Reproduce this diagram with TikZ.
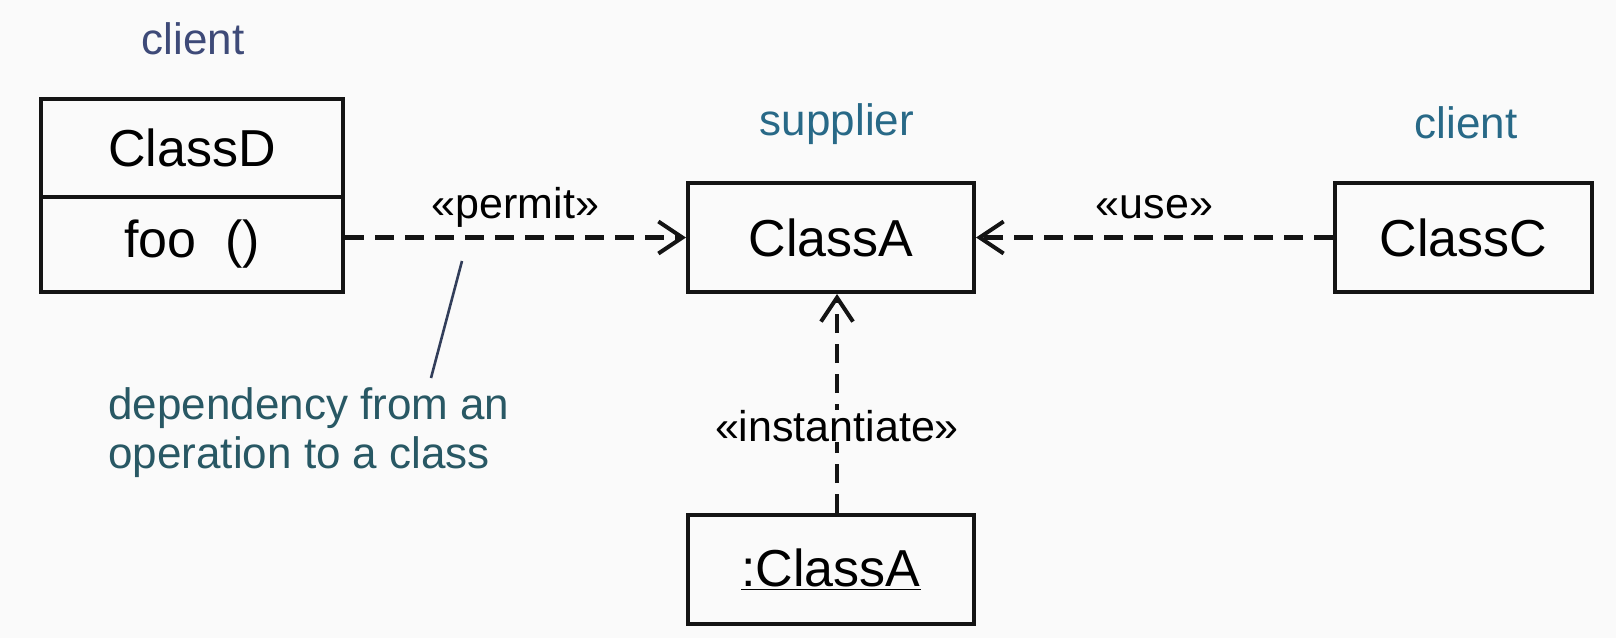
\documentclass[tikz,border=0pt]{standalone}
\usepackage{fontspec}
\setmainfont{Liberation Sans}
\usetikzlibrary{arrows.meta}
\definecolor{bgc}{RGB}{250,250,250}
\definecolor{clientc}{RGB}{62,74,120}
\definecolor{supplierc}{RGB}{40,105,135}
\definecolor{notec}{RGB}{40,88,100}
\definecolor{notelinec}{RGB}{50,62,90}
\definecolor{boxc}{RGB}{20,20,20}
\tikzset{
  box/.style={draw=boxc, line width=2pt, inner sep=0pt, font=\fontsize{26}{30}\selectfont},
  rolelabel/.style={inner sep=0pt, font=\fontsize{22}{26}\selectfont},
  stereo/.style={inner sep=1pt, font=\fontsize{21.5}{26}\selectfont},
  dep/.style={draw=boxc, line width=2.2pt, dash pattern=on 9.5pt off 5.5pt,
    -{Straight Barb[length=12pt,width=16pt,line width=2pt]}},
  noteline/.style={draw=notelinec, line width=1.3pt},
}
\begin{document}
\begin{tikzpicture}[x=0.5pt,y=-0.5pt]
\fill[bgc] (0,0) rectangle (1616,638);
\useasboundingbox (0,0) rectangle (1616,638);

% role labels
\node[rolelabel, text=clientc] (clientL) at (193,39) {client};
\node[rolelabel, text=supplierc] (supplierL) at (837,124) {supplier};
\node[rolelabel, text=supplierc] (clientR) at (1466,123) {client};

% ClassD
\node[box, minimum width=151pt, minimum height=49pt] (D) at (192,148) {ClassD};
\node[box, minimum width=151pt, minimum height=47.5pt] (Dop) at (192,244.5) {foo\ \ ()};

% ClassA
\node[box, minimum width=143pt, minimum height=54.5pt] (A) at (831,237.5) {ClassA};
% ClassC
\node[box, minimum width=128.5pt, minimum height=54.5pt] (C) at (1463.5,237.5) {ClassC};
% :ClassA
\node[box, minimum width=143pt, minimum height=54.5pt] (Aobj) at (831,569.5) {\underline{:ClassA}};

% dependencies
\draw[dep] (A.west -| Dop.east) -- (A.west)
  node[stereo, midway, above=7.5pt, text depth=0pt] (permit) {«permit»};
\draw[dep] (C.west) -- (A.east)
  node[stereo, midway, above=7.5pt, text depth=0pt] (use) {«use»};
\draw[dep] ([xshift=3pt]Aobj.north) -- ([xshift=3pt]A.south);
\node[stereo, fill=bgc, inner sep=0pt] (inst) at (837,426) {«instantiate»};

% note
\node[rolelabel, text=notec, align=left, anchor=west, font=\fontsize{22}{24.5}\selectfont] (note) at (108,433) {dependency from an\\operation to a class};
\coordinate (noteA) at (462,261);
\coordinate (noteB) at (431,378);
\draw[noteline] (noteA) -- (noteB);
\end{tikzpicture}
\end{document}
